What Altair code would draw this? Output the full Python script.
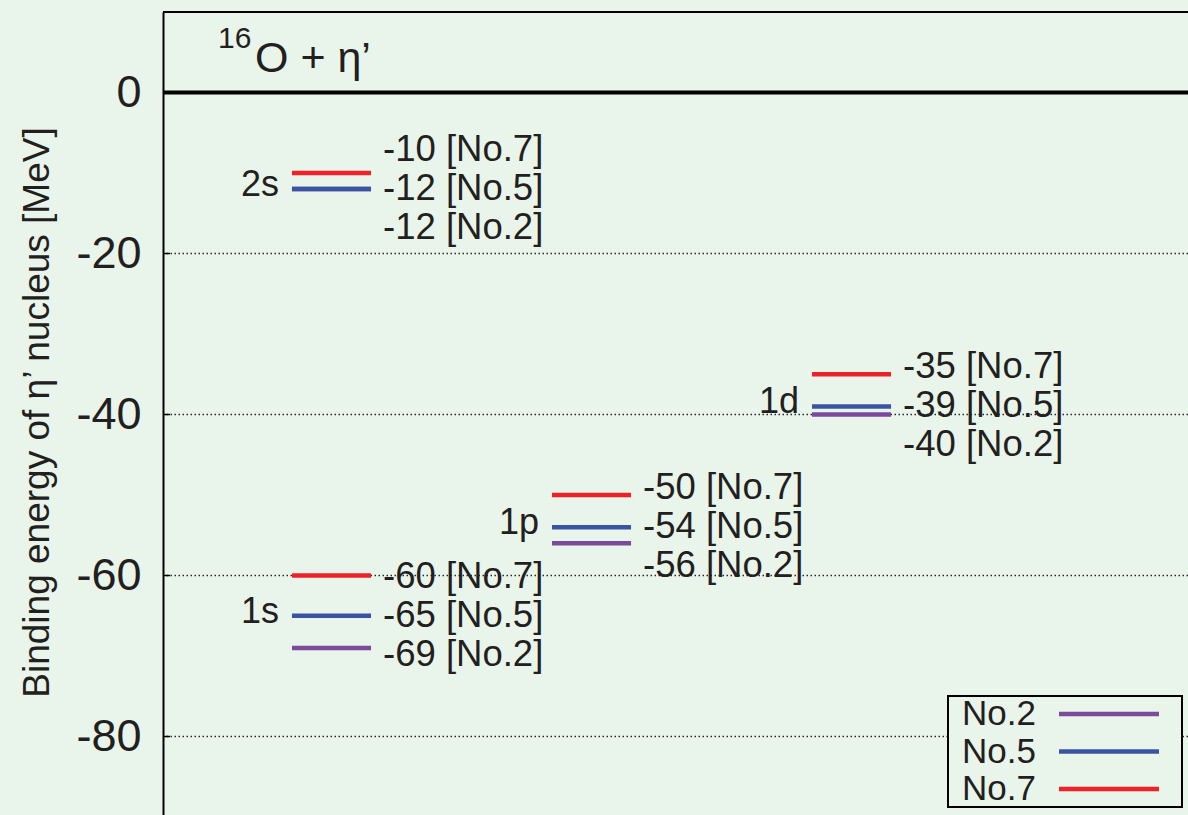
import altair as alt
import pandas as pd

# Bound-state levels of the eta' meson in 16O for three parameter sets
STATES = ["1s", "2s", "1p", "1d"]
ORBITAL_L = [0, 0, 1, 2]
PARAM_SETS = ["No.2", "No.5", "No.7"]
PARAM_COLORS = ["#7b4a9c", "#3a54a4", "#ed2129"]
E_NO2 = [-69, -12, -56, -40]
E_NO5 = [-65, -12, -54, -39]
E_NO7 = [-60, -10, -50, -35]
Y_TICKS = [0, -20, -40, -60, -80]
GRID_LINES = [-20, -40, -60, -80]

Y_TITLE = "Binding energy of η’ nucleus [MeV]"
TITLE_MASS = "16"
TITLE_MAIN = "O + η’"

FONT = "Liberation Sans"
INK = "#231f20"
BG = "#e9f4ea"

energies = {"No.2": E_NO2, "No.5": E_NO5, "No.7": E_NO7}
rows = []
for p in PARAM_SETS:
    for s, l, e, anchor in zip(STATES, ORBITAL_L, energies[p], E_NO5):
        rows.append({"state": s, "l": l, "param": p, "E": e, "anchor": anchor})
levels = pd.DataFrame(rows)
states = pd.DataFrame({"state": STATES, "l": ORBITAL_L, "anchor": E_NO5})

W, H = 1025, 803
xscale = alt.Scale(domain=[-0.648, 3.294], nice=False, zero=False)
yscale = alt.Scale(domain=[-89.75, 10], nice=False, zero=False)
cscale = alt.Scale(domain=PARAM_SETS, range=PARAM_COLORS)
HALF = 0.152

yaxis = alt.Axis(
    values=Y_TICKS, ticks=False, grid=False, labelFlush=False, labelOverlap=False,
    labelExpr="toString(datum.value)",
    labelFont=FONT, labelFontSize=45, labelColor=INK, labelPadding=22,
    domainColor="black", domainWidth=2,
    title=Y_TITLE, titleFont=FONT, titleFontSize=37, titleFontWeight="normal",
    titleColor=INK, titleAngle=270, titleX=-126, titleY=400,
    titleAlign="center", titleBaseline="middle",
)


def ychan(field):
    return alt.Y(field, scale=yscale, axis=yaxis)


one = pd.DataFrame({"k": [0]})

grid = alt.Chart(pd.DataFrame({"E": GRID_LINES})).mark_rule(
    color="#2a2a2a", strokeWidth=1.3, strokeDash=[1.5, 2.5]
).encode(y=ychan("E:Q"))

ticks = alt.Chart(pd.DataFrame({"E": Y_TICKS})).mark_rule(
    color="black", strokeWidth=1.5
).encode(x=alt.value(0), x2=alt.value(7), y=ychan("E:Q"))

zero = alt.Chart(pd.DataFrame({"E": [0]})).mark_rule(
    color="black", strokeWidth=4
).encode(y=ychan("E:Q"))

top = alt.Chart(one).mark_rule(color="black", strokeWidth=2).encode(
    x=alt.value(0), x2=alt.value(W), y=alt.value(0)
)

lines = alt.Chart(levels).transform_calculate(
    xa=f"datum.l - {HALF}", xb=f"datum.l + {HALF}"
).mark_rule(strokeWidth=4.5).encode(
    x=alt.X("xa:Q", scale=xscale, axis=None),
    x2="xb:Q",
    y=ychan("E:Q"),
    color=alt.Color("param:N", scale=cscale, legend=None),
)

value_layers = []
for p, dy in zip(["No.7", "No.5", "No.2"], [-39, 0, 39]):
    value_layers.append(
        alt.Chart(levels).transform_filter(alt.datum.param == p).transform_calculate(
            xb=f"datum.l + {HALF}",
            label="toString(datum.E) + ' [' + datum.param + ']'",
        ).mark_text(
            align="left", baseline="middle", dx=12, dy=dy,
            font=FONT, fontSize=36.5, color=INK,
        ).encode(
            x=alt.X("xb:Q", scale=xscale, axis=None),
            y=ychan("anchor:Q"),
            text="label:N",
        )
    )

state_labels = alt.Chart(states).transform_calculate(
    xa=f"datum.l - {HALF}"
).mark_text(
    align="right", baseline="middle", dx=-13, dy=-4,
    font=FONT, fontSize=36, color=INK,
).encode(
    x=alt.X("xa:Q", scale=xscale, axis=None),
    y=ychan("anchor:Q"),
    text="state:N",
)

title_mass = alt.Chart(one).mark_text(
    align="left", baseline="alphabetic", font=FONT, fontSize=30, color=INK
).encode(x=alt.value(55), y=alt.value(36), text=alt.value(TITLE_MASS))

title_main = alt.Chart(one).mark_text(
    align="left", baseline="alphabetic", font=FONT, fontSize=43, color=INK
).encode(x=alt.value(92), y=alt.value(60), text=alt.value(TITLE_MAIN))

legend_box = alt.Chart(one).mark_rect(
    fill=BG, stroke="black", strokeWidth=2
).encode(x=alt.value(785), x2=alt.value(1019), y=alt.value(684), y2=alt.value(795))

legend_layers = []
for i, p in enumerate(PARAM_SETS):
    d = pd.DataFrame({"param": [p]})
    ly = 702 + 37.5 * i
    legend_layers.append(
        alt.Chart(d).mark_text(
            align="left", baseline="middle", font=FONT, fontSize=35, color=INK
        ).encode(x=alt.value(799), y=alt.value(ly), text="param:N")
    )
    legend_layers.append(
        alt.Chart(d).mark_rule(strokeWidth=4.5).encode(
            x=alt.value(896), x2=alt.value(996), y=alt.value(ly),
            color=alt.Color("param:N", scale=cscale, legend=None),
        )
    )

chart = alt.layer(
    grid, ticks, zero, top, lines, *value_layers, state_labels,
    title_mass, title_main, legend_box, *legend_layers,
).properties(
    width=W, height=H,
    padding={"left": 163, "top": 12, "right": 0, "bottom": 0},
    autosize=alt.AutoSizeParams(type="none"),
).configure(
    background=BG, font=FONT
).configure_view(
    stroke="transparent"
)

chart.save("out.html", embed_options={"renderer": "svg", "actions": False})
